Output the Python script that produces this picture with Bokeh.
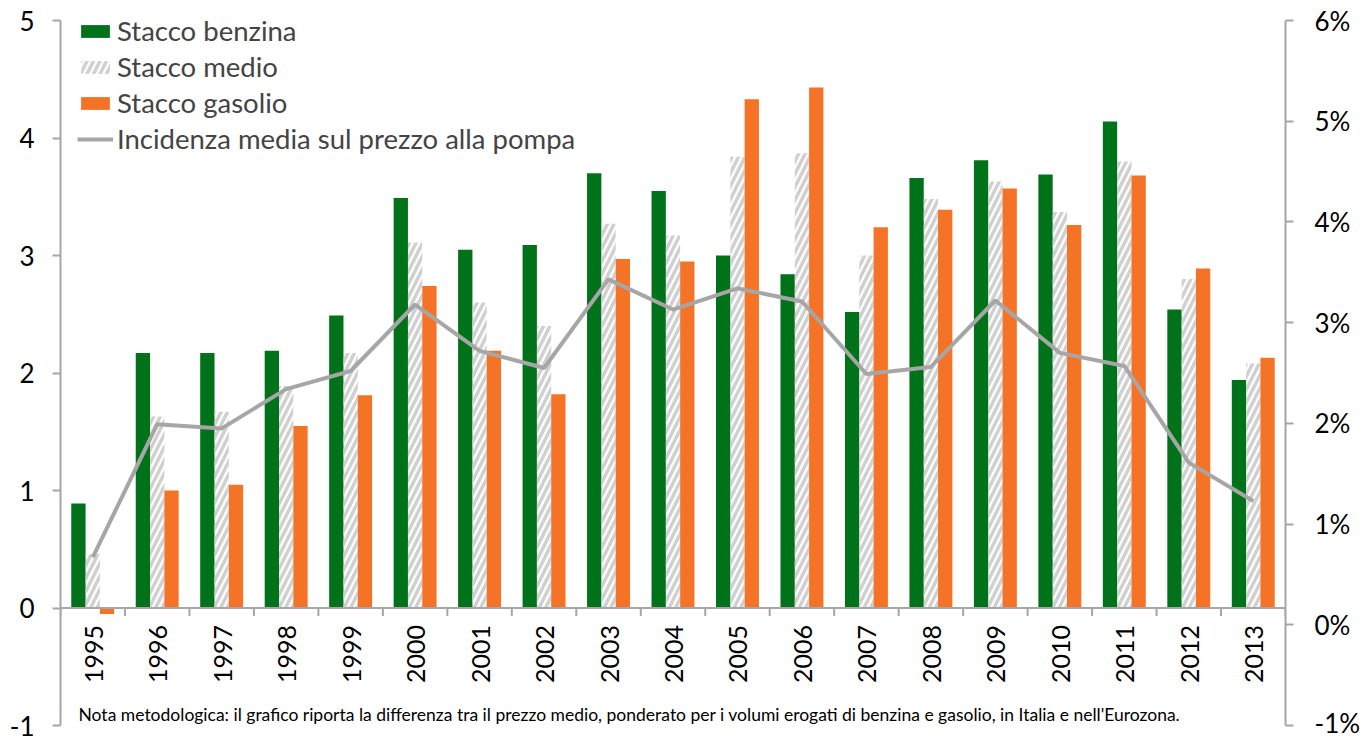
import numpy as np
from bokeh.plotting import figure
from bokeh.models import (Range1d, LinearAxis, FixedTicker, PrintfTickFormatter, Legend,
                          LegendItem, Span, Label, ColumnDataSource)
from bokeh.transform import dodge
from bokeh.core.properties import value
from bokeh.embed import file_html
from bokeh.resources import INLINE

# ---------------- data ----------------
years = ["1995", "1996", "1997", "1998", "1999", "2000", "2001", "2002", "2003", "2004",
         "2005", "2006", "2007", "2008", "2009", "2010", "2011", "2012", "2013"]
stacco_benzina = [0.89, 2.17, 2.17, 2.19, 2.49, 3.49, 3.05, 3.09, 3.70, 3.55,
                  3.00, 2.84, 2.52, 3.66, 3.81, 3.69, 4.14, 2.54, 1.94]
stacco_medio = [0.46, 1.63, 1.67, 1.89, 2.17, 3.11, 2.60, 2.40, 3.27, 3.17,
                3.84, 3.87, 3.00, 3.48, 3.63, 3.37, 3.80, 2.80, 2.08]
stacco_gasolio = [-0.05, 1.00, 1.05, 1.55, 1.81, 2.74, 2.19, 1.82, 2.97, 2.95,
                  4.33, 4.43, 3.24, 3.39, 3.57, 3.26, 3.68, 2.89, 2.13]
incidenza_pct = [0.67, 1.99, 1.95, 2.34, 2.52, 3.18, 2.72, 2.55, 3.43, 3.13,
                 3.34, 3.21, 2.49, 2.56, 3.22, 2.70, 2.57, 1.61, 1.23]
left_ticks = [-1, 0, 1, 2, 3, 4, 5]
right_ticks = [-1, 0, 1, 2, 3, 4, 5, 6]
series_labels = ["Stacco benzina", "Stacco medio", "Stacco gasolio",
                 "Incidenza media sul prezzo alla pompa"]
note = ("Nota metodologica: il grafico riporta la differenza tra il prezzo medio, ponderato per i "
        "volumi erogati di benzina e gasolio, in Italia e nell'Eurozona.")

# ---------------- style ----------------
FONT = "Lato"
GREEN = "#007219"
ORANGE = "#f57326"
HATCH = "#d0d0d0"
GRAY = "#a6a6a6"
BW = 0.222

n = len(years)
src = ColumnDataSource(dict(x=np.arange(n) + 0.5, b=stacco_benzina, m=stacco_medio,
                            g=stacco_gasolio, inc=incidenza_pct, years=years))

p = figure(width=1363, height=738, output_backend="svg", toolbar_location=None,
           x_range=Range1d(0, n), y_range=Range1d(left_ticks[0], left_ticks[-1]),
           x_axis_location=None,
           min_border_left=60, min_border_right=70, min_border_top=20, min_border_bottom=13)
p.grid.visible = False
p.outline_line_color = None
p.background_fill_color = "white"
p.border_fill_color = "white"


def style_axis(ax):
    ax.major_label_text_font = FONT
    ax.major_label_text_font_size = "26px"
    ax.major_label_text_color = "black"
    ax.major_tick_out = 8
    ax.major_tick_in = 0
    ax.minor_tick_out = 0
    ax.minor_tick_in = 0
    ax.axis_line_color = GRAY
    ax.axis_line_width = 2
    ax.major_tick_line_color = GRAY
    ax.major_tick_line_width = 2


ya = p.yaxis[0]
ya.ticker = FixedTicker(ticks=left_ticks)
ya.formatter = PrintfTickFormatter(format="%d")
style_axis(ya)
ya.major_label_standoff = 18

p.extra_y_ranges = {"pct": Range1d(right_ticks[0], right_ticks[-1])}
ax2 = LinearAxis(y_range_name="pct", ticker=FixedTicker(ticks=right_ticks),
                 formatter=PrintfTickFormatter(format="%d%%"))
style_axis(ax2)
ax2.major_label_standoff = 21
p.add_layout(ax2, "right")

# category axis at zero
p.add_layout(Span(location=0, dimension="width", line_color=GRAY, line_width=2))
bounds = np.arange(n + 1)
p.segment(x0=bounds, y0=0, x1=bounds, y1=-0.068, line_color=GRAY, line_width=2)

r1 = p.vbar(x=dodge("x", -BW), top="b", bottom=0, width=BW, source=src,
            fill_color=GREEN, line_color=None)
r2 = p.vbar(x="x", top="m", bottom=0, width=BW, source=src,
            fill_alpha=0, line_color=None, hatch_pattern="/", hatch_color=HATCH,
            hatch_weight=3.5, hatch_scale=13)
r3 = p.vbar(x=dodge("x", BW), top="g", bottom=0, width=BW, source=src,
            fill_color=ORANGE, line_color=None)
r4 = p.line(x="x", y="inc", source=src, y_range_name="pct", line_color=GRAY, line_width=4)

p.text(x="x", y=0, text="years", source=src, angle=np.pi / 2, text_align="right",
       text_baseline="middle", y_offset=17, x_offset=1, text_font=value(FONT),
       text_font_size=value("25px"), text_color="black")

legend = Legend(items=[LegendItem(label=series_labels[0], renderers=[r1]),
                       LegendItem(label=series_labels[1], renderers=[r2]),
                       LegendItem(label=series_labels[2], renderers=[r3]),
                       LegendItem(label=series_labels[3], renderers=[r4])],
                location=(17, 570), background_fill_alpha=0, border_line_color=None,
                label_text_font=FONT, label_text_font_size="27.5px", glyph_width=36,
                glyph_height=16, label_standoff=4, spacing=3, padding=0, margin=0,
                label_height=20)
p.add_layout(legend)

p.add_layout(Label(x=18, y=11, x_units="screen", y_units="screen", text=note,
                   text_font=FONT, text_font_size="17.5px", text_baseline="middle",
                   text_color="black"))

open("out.html", "w").write(file_html(p, INLINE))
